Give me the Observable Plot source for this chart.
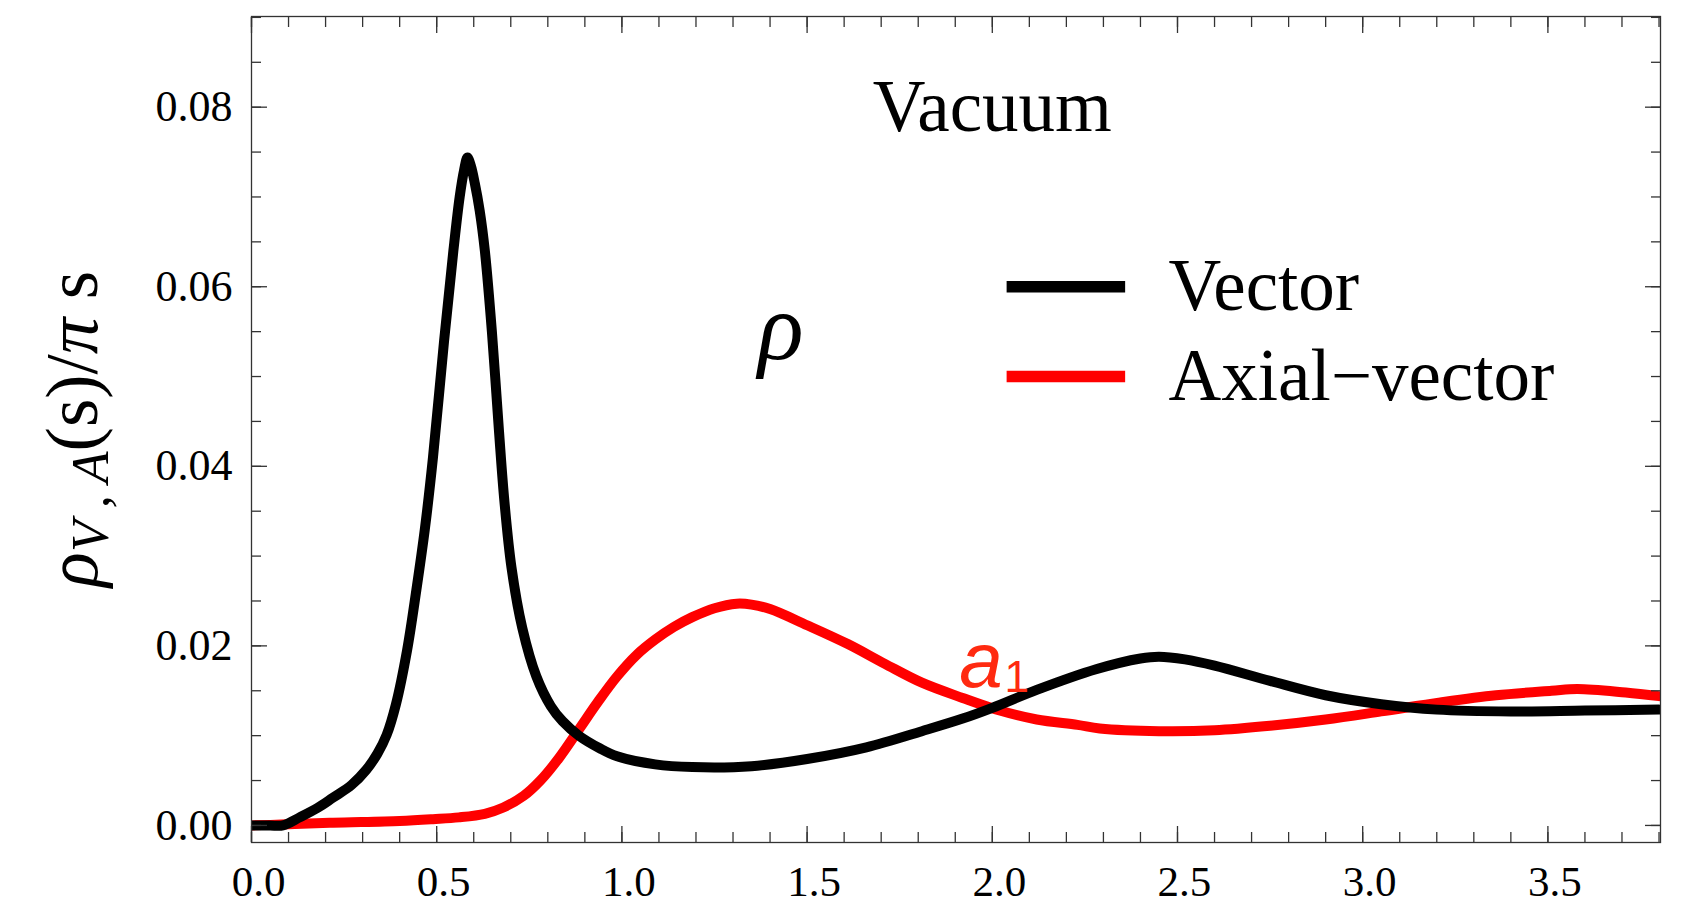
<!DOCTYPE html>
<html><head><meta charset="utf-8">
<script src="https://cdn.jsdelivr.net/npm/d3@7"></script>
<script src="https://cdn.jsdelivr.net/npm/@observablehq/plot@0.6"></script>
<style>html,body{margin:0;padding:0;background:#fff;}</style>
</head><body><div id="chart"></div>
<script>
// ---- data ----
const vectorS = [0, 0.05, 0.085, 0.13, 0.18, 0.22, 0.27, 0.31, 0.34, 0.365, 0.39, 0.42, 0.445, 0.468, 0.49, 0.52, 0.545, 0.562, 0.574, 0.583, 0.592, 0.603, 0.616, 0.63, 0.649, 0.668, 0.683, 0.702, 0.731, 0.769, 0.808, 0.84, 0.884, 0.94, 0.987, 1.09, 1.19, 1.35, 1.5, 1.66, 1.81, 1.92, 2.0, 2.12, 2.28, 2.4, 2.45, 2.52, 2.6, 2.75, 2.9, 3.05, 3.2, 3.4, 3.6, 3.8];
const vectorRho = [0, 0, 0, 0.0009, 0.002, 0.0031, 0.0045, 0.0062, 0.008, 0.0101, 0.0135, 0.0195, 0.0262, 0.033, 0.041, 0.054, 0.064, 0.07, 0.073, 0.0744, 0.0735, 0.0715, 0.0685, 0.064, 0.055, 0.044, 0.036, 0.0287, 0.022, 0.0166, 0.0133, 0.0116, 0.01, 0.0086, 0.0077, 0.0068, 0.0065, 0.0066, 0.0074, 0.0087, 0.0105, 0.0119, 0.0131, 0.0151, 0.0174, 0.0186, 0.0188, 0.0185, 0.0178, 0.0161, 0.0145, 0.0135, 0.0129, 0.0127, 0.0128, 0.0129];
const axialS = [0, 0.08, 0.22, 0.4, 0.49, 0.56, 0.63, 0.68, 0.735, 0.78, 0.83, 0.884, 0.936, 0.987, 1.04, 1.09, 1.14, 1.19, 1.25, 1.31, 1.35, 1.4, 1.5, 1.61, 1.71, 1.81, 1.92, 2.02, 2.12, 2.23, 2.29, 2.45, 2.6, 2.75, 2.9, 3.05, 3.21, 3.36, 3.51, 3.58, 3.71, 3.8];
const axialRho = [0, 0.0001, 0.0003, 0.0005, 0.0007, 0.0009, 0.0013, 0.002, 0.0033, 0.005, 0.0075, 0.0107, 0.0138, 0.0166, 0.019, 0.0207, 0.0221, 0.0232, 0.0242, 0.0247, 0.0246, 0.0241, 0.0223, 0.0202, 0.018, 0.0159, 0.0142, 0.0128, 0.0118, 0.0112, 0.0108, 0.0105, 0.0106, 0.0111, 0.0118, 0.0127, 0.0137, 0.0145, 0.015, 0.0152, 0.0148, 0.0144];
const seriesNames = ["Vector", "Axial\u2212vector"];
const seriesColors = ["#000000", "#ff0000"];
const xTickLabels = [0, 0.5, 1.0, 1.5, 2.0, 2.5, 3.0, 3.5];
const yTickLabels = [0, 0.02, 0.04, 0.06, 0.08];
const titleText = "Vacuum";
const rhoText = "\u03C1";

// ---- tables ----
const vectorData = vectorS.map((s, i) => ({s, rho: vectorRho[i]}));
const axialData = axialS.map((s, i) => ({s, rho: axialRho[i]}));
const xMinor = d3.range(0, 3.81, 0.1);
const yMinor = d3.range(0, 0.0901, 0.005);
const legend = [
  {name: seriesNames[0], color: seriesColors[0], y: 0.060, ty: 0.0574},
  {name: seriesNames[1], color: seriesColors[1], y: 0.050, ty: 0.0474}
];

const serif = "Liberation Serif, Times New Roman, serif";
const frameColor = "#333";

const tickMarks = [];
for (const anchor of ["bottom", "top"]) {
  tickMarks.push(Plot.axisX(xTickLabels, {anchor, tickSize: -16, fill: "none", stroke: frameColor, strokeWidth: 1.3, label: null}));
  tickMarks.push(Plot.axisX(xMinor, {anchor, tickSize: -10, fill: "none", stroke: frameColor, strokeWidth: 1.3, label: null}));
}
for (const anchor of ["left", "right"]) {
  tickMarks.push(Plot.axisY(yTickLabels, {anchor, tickSize: -16, fill: "none", stroke: frameColor, strokeWidth: 1.3, label: null}));
  tickMarks.push(Plot.axisY(yMinor, {anchor, tickSize: -10, fill: "none", stroke: frameColor, strokeWidth: 1.3, label: null}));
}

const plot = Plot.plot({
  width: 1690,
  height: 908,
  marginLeft: 251,
  marginRight: 30,
  marginTop: 16,
  marginBottom: 66,
  x: {domain: [0, 3.804], label: null},
  y: {domain: [-0.0019, 0.0901], label: null},
  marks: [
    Plot.line(axialData, {x: "s", y: "rho", stroke: seriesColors[1], strokeWidth: 10, curve: "catmull-rom", clip: true}),
    Plot.line(vectorData, {x: "s", y: "rho", stroke: seriesColors[0], strokeWidth: 10, curve: "catmull-rom", clip: true}),
    Plot.frame({stroke: frameColor, strokeWidth: 1.3}),
    ...tickMarks,
    Plot.axisX(xTickLabels, {anchor: "bottom", tickSize: 0, tickPadding: 23, dx: 7, tickFormat: d3.format(".1f"), fontSize: 43, fontFamily: serif, fill: "#000", label: null}),
    Plot.axisY(yTickLabels, {anchor: "left", tickSize: 0, tickPadding: 19, tickFormat: d3.format(".2f"), fontSize: 44, fontFamily: serif, fill: "#000", label: null}),
    Plot.text([titleText], {x: 2.0, y: 0.0773, text: d => d, fontSize: 73, fontFamily: serif, fill: "#000", lineAnchor: "bottom", textAnchor: "middle"}),
    Plot.text([rhoText], {x: 1.429, y: 0.052, text: d => d, fontSize: 95, fontFamily: serif, fontStyle: "italic", fill: "#000", lineAnchor: "bottom", textAnchor: "middle"}),
    Plot.ruleY(legend, {y: "y", x1: 2.04, x2: 2.36, stroke: "color", strokeWidth: 11.5}),
    Plot.text(legend, {x: 2.476, y: "ty", text: "name", fontSize: 73, fontFamily: serif, fill: "#000", lineAnchor: "bottom", textAnchor: "start"})
  ]
});
document.getElementById("chart").appendChild(plot);

// rich-text annotations positioned through the plot's scales
const xs = plot.scale("x"), ys = plot.scale("y");
const svg = d3.select(plot);
const yMid = (ys.range[0] + ys.range[1]) / 2;
const yl = svg.append("text")
  .attr("transform", `translate(97,${yMid}) rotate(-90)`)
  .attr("text-anchor", "middle")
  .attr("font-family", serif)
  .attr("font-size", 73)
  .attr("fill", "#000");
yl.append("tspan").attr("font-style", "italic").text("\u03C1");
yl.append("tspan").attr("font-style", "italic").attr("font-size", 52).attr("dy", 11).text("V , A");
yl.append("tspan").attr("dy", -11).text("(s)/");
yl.append("tspan").attr("font-style", "italic").text("\u03C0");
yl.append("tspan").text(" s");

const a1 = svg.append("text")
  .attr("x", xs.apply(1.912))
  .attr("y", ys.apply(0.0154))
  .attr("text-anchor", "start")
  .attr("font-family", "Liberation Sans, Arial, sans-serif")
  .attr("fill", "#ff2a10");
a1.append("tspan").attr("font-style", "italic").attr("font-size", 78).text("a");
a1.append("tspan").attr("font-size", 44).attr("dx", 2).attr("dy", 5).text("1");
</script>
</body></html>
